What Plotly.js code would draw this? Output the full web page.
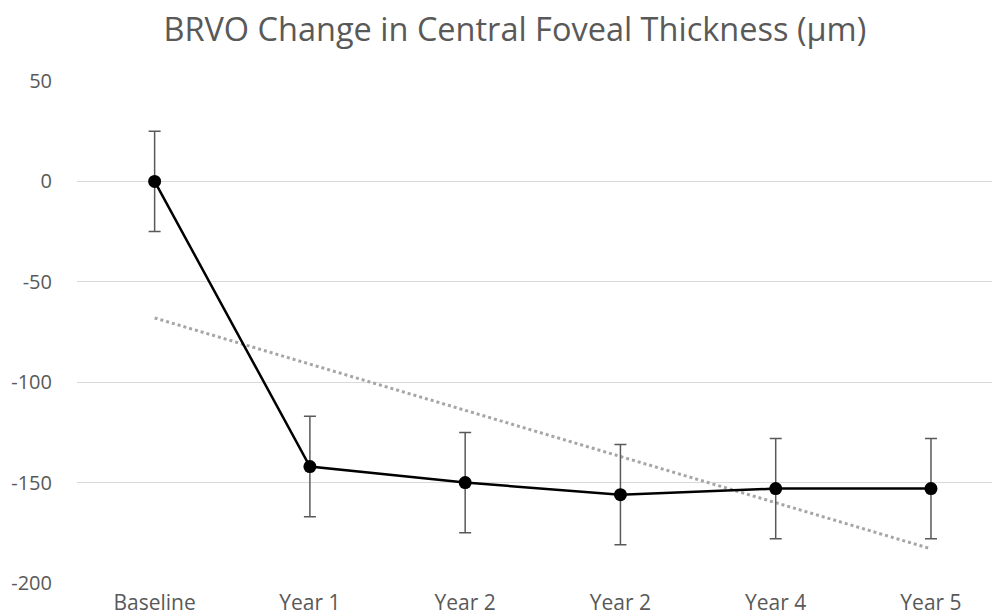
<!DOCTYPE html>
<html>
<head>
<meta charset="utf-8">
<script src="https://cdn.plot.ly/plotly-3.0.1.min.js"></script>
<style>html,body{margin:0;padding:0;background:#fff;}#chart{width:992px;height:615px;}</style>
</head>
<body>
<div id="chart"></div>
<script>
const categories = ["Baseline", "Year 1", "Year 2", "Year 2", "Year 4", "Year 5"];
const cftChange = [0, -142, -150, -156, -153, -153];
const cftError = [25, 25, 25, 25, 25, 25];
const trendEnds = [-68, -183];
const yTickVals = [-200, -150, -100, -50, 0, 50];
const yTickText = ["-200", "-150", "-100", "-50", "0", "50"];
const yGridVals = [-150, -100, -50, 0, 50];

const xIdx = categories.map((_, i) => i);
const textColor = '#595959';
const family = 'Open Sans, sans-serif';

const traces = [
  {
    x: [xIdx[0], xIdx[xIdx.length - 1]],
    y: trendEnds,
    mode: 'lines',
    line: {color: '#a6a6a6', width: 3, dash: 'dot'},
    hoverinfo: 'skip',
    showlegend: false
  },
  {
    x: xIdx,
    y: cftChange,
    mode: 'lines+markers',
    line: {color: '#000000', width: 2.5},
    marker: {color: '#000000', size: 13},
    error_y: {type: 'data', array: cftError, visible: true, color: '#595959', thickness: 1.5, width: 6},
    showlegend: false
  },
  {x: [0], y: [0], yaxis: 'y2', mode: 'markers', marker: {opacity: 0}, hoverinfo: 'skip', showlegend: false}
];

const layout = {
  width: 992,
  height: 615,
  paper_bgcolor: '#ffffff',
  plot_bgcolor: 'rgba(0,0,0,0)',
  margin: {l: 77, r: 0, t: 80, b: 32, pad: 0},
  font: {family: family, size: 20, color: textColor},
  title: {
    text: 'BRVO Change in Central Foveal Thickness (μm)',
    font: {family: family, size: 32.5, color: textColor},
    x: 0.519, xref: 'container', xanchor: 'center',
    y: 0.952, yref: 'container', yanchor: 'middle'
  },
  xaxis: {
    range: [-0.5, 5.393],
    tickvals: xIdx,
    ticktext: categories,
    showgrid: false,
    zeroline: false,
    showline: false,
    ticks: 'outside',
    ticklen: 1,
    tickcolor: 'rgba(0,0,0,0)',
    tickfont: {family: family, size: 21, color: textColor}
  },
  yaxis: {
    range: [-200, 50.5],
    tickvals: yTickVals,
    ticktext: yTickText,
    showgrid: false,
    zeroline: false,
    showline: false,
    ticks: 'outside',
    ticklen: 20,
    tickcolor: 'rgba(0,0,0,0)',
    tickfont: {family: family, size: 20, color: textColor}
  },
  yaxis2: {
    range: [-200, 50.5],
    overlaying: 'y',
    tickvals: yGridVals,
    showticklabels: false,
    showgrid: true,
    gridcolor: '#d9d9d9',
    gridwidth: 1.3,
    zeroline: false,
    showline: false
  }
};

Plotly.newPlot('chart', traces, layout, {displayModeBar: false, staticPlot: true});
</script>
</body>
</html>
